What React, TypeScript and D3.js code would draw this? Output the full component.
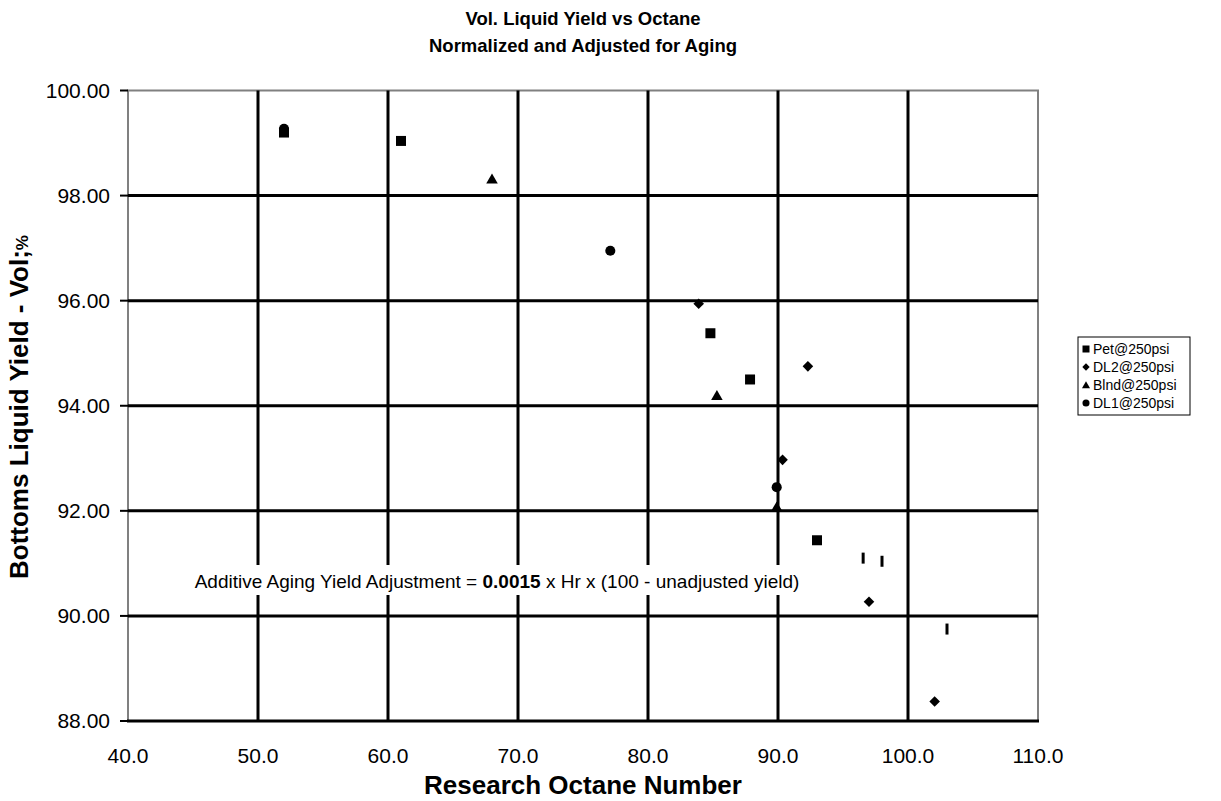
import React from "react";
import * as d3 from "d3";

// Research octane number (x) vs. bottoms liquid yield, vol% (y)
const petOctane = [52.0, 61.0, 84.8, 87.85, 93.0];
const petYield = [99.2, 99.04, 95.38, 94.5, 91.44];

const dl2Octane = [83.9, 92.3, 90.35, 97.0, 102.05];
const dl2Yield = [95.94, 94.75, 92.97, 90.27, 88.37];

const blndOctane = [68.0, 85.3, 89.9];
const blndYield = [98.32, 94.2, 92.08];

const dl1Octane = [52.0, 77.1, 89.9];
const dl1Yield = [99.27, 96.95, 92.45];

// Extra runs plotted with a bar marker and no legend entry
const extraOctane = [96.55, 98.0, 103.0];
const extraYield = [91.1, 91.04, 89.75];

const xTicks = [40, 50, 60, 70, 80, 90, 100, 110];
const yTicks = [88, 90, 92, 94, 96, 98, 100];

const seriesNames = ["Pet@250psi", "DL2@250psi", "Blnd@250psi", "DL1@250psi"];

const W = 1221;
const H = 801;
const FONT = "Arial, 'Liberation Sans', Helvetica, sans-serif";

const x = d3.scaleLinear().domain([40, 110]).range([128, 1038]);
const y = d3.scaleLinear().domain([88, 100]).range([721, 90.5]);

type Shape = "square" | "diamond" | "triangle" | "circle";

const diamondType: d3.SymbolType = {
  draw(ctx, size) {
    const r = Math.sqrt(size / 2);
    ctx.moveTo(0, -r);
    ctx.lineTo(r, 0);
    ctx.lineTo(0, r);
    ctx.lineTo(-r, 0);
    ctx.closePath();
  },
};

const triangleType: d3.SymbolType = {
  draw(ctx, size) {
    const s = Math.sqrt(size);
    ctx.moveTo(0, -s * 0.5);
    ctx.lineTo(s * 0.55, s * 0.45);
    ctx.lineTo(-s * 0.55, s * 0.45);
    ctx.closePath();
  },
};

function markerPath(shape: Shape, scale = 1): string {
  const gen = d3.symbol();
  if (shape === "square") gen.type(d3.symbolSquare).size(100 * scale * scale);
  if (shape === "diamond") gen.type(diamondType).size(56 * scale * scale);
  if (shape === "triangle") gen.type(triangleType).size(110 * scale * scale);
  if (shape === "circle") gen.type(d3.symbolCircle).size(80 * scale * scale);
  return gen() as string;
}

const series: { name: string; shape: Shape; xs: number[]; ys: number[] }[] = [
  { name: seriesNames[3], shape: "circle", xs: dl1Octane, ys: dl1Yield },
  { name: seriesNames[2], shape: "triangle", xs: blndOctane, ys: blndYield },
  { name: seriesNames[1], shape: "diamond", xs: dl2Octane, ys: dl2Yield },
  { name: seriesNames[0], shape: "square", xs: petOctane, ys: petYield },
];

const legendShapes: Shape[] = ["square", "diamond", "triangle", "circle"];

export default function App() {
  const [x0, x1] = x.range();
  const [yb, yt] = y.range();
  return (
    <div style={{ position: "absolute", left: 0, top: 0 }}>
      <svg width={W} height={H} style={{ display: "block", background: "#fff" }} fontFamily={FONT}>
        {/* title */}
        <text x={583} y={25} textAnchor="middle" fontSize={18.5} fontWeight="bold">
          Vol. Liquid Yield vs Octane
        </text>
        <text x={583} y={52} textAnchor="middle" fontSize={18.5} fontWeight="bold">
          Normalized and Adjusted for Aging
        </text>

        {/* plot border */}
        <rect x={x0} y={yt} width={x1 - x0} height={yb - yt} fill="#fff" stroke="#808080" strokeWidth={2} />

        {/* gridlines */}
        {xTicks.filter((t) => t > 40 && t < 110).map((t) => (
          <line key={"gx" + t} x1={x(t)} x2={x(t)} y1={yt} y2={yb} stroke="#000" strokeWidth={3} />
        ))}
        {yTicks.filter((t) => t > 88 && t < 100).map((t) => (
          <line key={"gy" + t} x1={x0} x2={x1} y1={y(t)} y2={y(t)} stroke="#000" strokeWidth={3} />
        ))}

        {/* x axis line */}
        <line x1={x0 - 1} x2={x1 + 1} y1={yb} y2={yb} stroke="#000" strokeWidth={3} />

        {/* y axis ticks and labels */}
        {yTicks.map((t) => (
          <g key={"yt" + t}>
            <line x1={x0 - 8} x2={x0} y1={y(t)} y2={y(t)} stroke="#000" strokeWidth={2} />
            <text x={110} y={y(t)} dy="0.35em" textAnchor="end" fontSize={21}>
              {t.toFixed(2)}
            </text>
          </g>
        ))}

        {/* x tick labels */}
        {xTicks.map((t) => (
          <text key={"xt" + t} x={x(t)} y={763} textAnchor="middle" fontSize={21}>
            {t.toFixed(1)}
          </text>
        ))}

        {/* axis titles */}
        <text x={583} y={794} textAnchor="middle" fontSize={26} fontWeight="bold">
          Research Octane Number
        </text>
        <text
          transform={`translate(28, 407) rotate(-90)`}
          textAnchor="middle"
          fontSize={26}
          fontWeight="bold"
        >
          Bottoms Liquid Yield - Vol;<tspan fontSize={17}>%</tspan>
        </text>

        {/* annotation */}
        <rect x={192} y={565} width={612} height={30} fill="#fff" />
        <text x={497} y={588} textAnchor="middle" fontSize={19}>
          Additive Aging Yield Adjustment = <tspan fontWeight="bold">0.0015</tspan> x Hr x (100 - unadjusted yield)
        </text>

        {/* data markers */}
        {series.map((s) => (
          <g key={s.name}>
            {s.xs.map((v, i) => (
              <path
                key={i}
                d={markerPath(s.shape)}
                transform={`translate(${x(v)},${y(s.ys[i])})`}
                fill="#000"
              />
            ))}
          </g>
        ))}
        {extraOctane.map((v, i) => (
          <line
            key={"ex" + i}
            x1={x(v)}
            x2={x(v)}
            y1={y(extraYield[i]) - 5.5}
            y2={y(extraYield[i]) + 5.5}
            stroke="#000"
            strokeWidth={3}
          />
        ))}

        {/* legend */}
        <g>
          <rect x={1078} y={337} width={112} height={78} fill="#fff" stroke="#000" strokeWidth={1} />
          {seriesNames.map((n, i) => (
            <g key={n} transform={`translate(1086, ${349 + i * 18})`}>
              <path d={markerPath(legendShapes[i], 0.7)} fill="#000" />
              <text x={7} dy="0.35em" fontSize={14}>
                {n}
              </text>
            </g>
          ))}
        </g>
      </svg>
    </div>
  );
}
